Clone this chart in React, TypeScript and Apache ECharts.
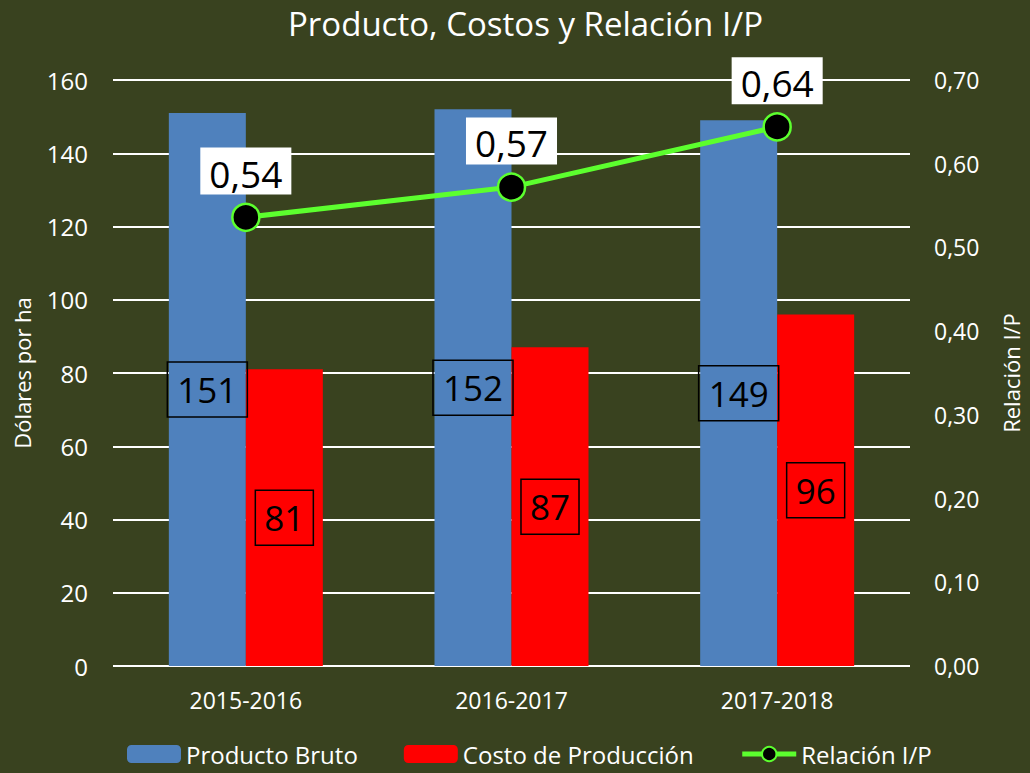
import React, { useEffect, useRef } from "react";
import * as echarts from "echarts";

const categories = ["2015-2016", "2016-2017", "2017-2018"];
const productoBruto = [151, 152, 149];
const costoProduccion = [81, 87, 96];
const relacionIP = [0.536, 0.572, 0.644];

const BG = "#39421f";
const GREEN = "#5cff2e";
const FONT = "'Open Sans', 'Noto Sans', sans-serif";

export default function App() {
  const ref = useRef<HTMLDivElement>(null);
  useEffect(() => {
    if (!ref.current) return;
    const chart = echarts.init(ref.current, null, { renderer: "svg" });
    const fmt = (v: number) => v.toFixed(2).replace(".", ",");
    chart.setOption({
      animation: false,
      backgroundColor: BG,
      textStyle: { fontFamily: FONT },
      title: {
        text: "Producto, Costos y Relación I/P",
        left: 283,
        top: 2,
        textStyle: { color: "#ffffff", fontSize: 33, fontWeight: "normal", fontFamily: FONT },
      },
      legend: {
        bottom: 2,
        left: 122,
        itemWidth: 54,
        itemHeight: 18,
        itemGap: 46,
        textStyle: { color: "#ffffff", fontSize: 24, fontFamily: FONT },
        data: [
          "Producto Bruto",
          "Costo de Producción",
          {
            name: "Relación I/P",
            lineStyle: { width: 5 },
            itemStyle: { color: "#000000", borderColor: GREEN, borderWidth: 2 },
          },
        ],
      },
      grid: { left: 113, right: 110, top: 80, bottom: 107 },
      xAxis: {
        type: "category",
        data: categories,
        axisLine: { show: false },
        axisTick: { show: false },
        axisLabel: { color: "#ffffff", fontSize: 23, margin: 22, fontFamily: FONT },
      },
      yAxis: [
        {
          type: "value",
          min: 0,
          max: 160,
          interval: 20,
          name: "Dólares por ha",
          nameLocation: "middle",
          nameGap: 80,
          nameTextStyle: { color: "#ffffff", fontSize: 22, fontFamily: FONT },
          axisLine: { show: false },
          axisTick: { show: false },
          axisLabel: { color: "#ffffff", fontSize: 24, margin: 25, fontFamily: FONT },
          splitLine: { lineStyle: { color: "#ffffff", width: 2 } },
        },
        {
          type: "value",
          min: 0,
          max: 0.7,
          interval: 0.1,
          name: "Relación I/P",
          nameLocation: "middle",
          nameGap: 90,
          nameRotate: 90,
          nameTextStyle: { color: "#ffffff", fontSize: 22, fontFamily: FONT },
          axisLine: { show: false },
          axisTick: { show: false },
          axisLabel: { color: "#ffffff", fontSize: 23, margin: 24, fontFamily: FONT, formatter: fmt },
          splitLine: { show: false },
        },
      ],
      series: [
        {
          name: "Producto Bruto",
          type: "bar",
          data: productoBruto,
          barWidth: 77,
          barGap: "0%",
          itemStyle: { color: "#4f81bd" },
          label: {
            show: true,
            position: "inside",
            color: "#000000",
            fontSize: 35,
            fontFamily: FONT,
            borderColor: "#000000",
            borderWidth: 1.5,
            padding: [12, 10, 8, 10],
          },
        },
        {
          name: "Costo de Producción",
          type: "bar",
          data: costoProduccion,
          barWidth: 77,
          barGap: "0%",
          itemStyle: { color: "#ff0000" },
          label: {
            show: true,
            position: "inside",
            color: "#000000",
            fontSize: 35,
            fontFamily: FONT,
            borderColor: "#000000",
            borderWidth: 1.5,
            padding: [12, 9, 8, 9],
          },
        },
        {
          name: "Relación I/P",
          type: "line",
          yAxisIndex: 1,
          data: relacionIP,
          symbol: "circle",
          symbolSize: 27,
          lineStyle: { color: GREEN, width: 5 },
          itemStyle: { color: "#000000", borderColor: GREEN, borderWidth: 2.5 },
          label: {
            show: true,
            position: "top",
            distance: 8,
            formatter: (p: any) => fmt(p.value),
            color: "#000000",
            fontSize: 37,
            fontFamily: FONT,
            backgroundColor: "#ffffff",
            padding: [7, 9, 3, 9],
          },
        },
      ],
    });
    return () => chart.dispose();
  }, []);
  return <div ref={ref} style={{ width: 1030, height: 773, position: "absolute", left: 0, top: 0 }} />;
}
